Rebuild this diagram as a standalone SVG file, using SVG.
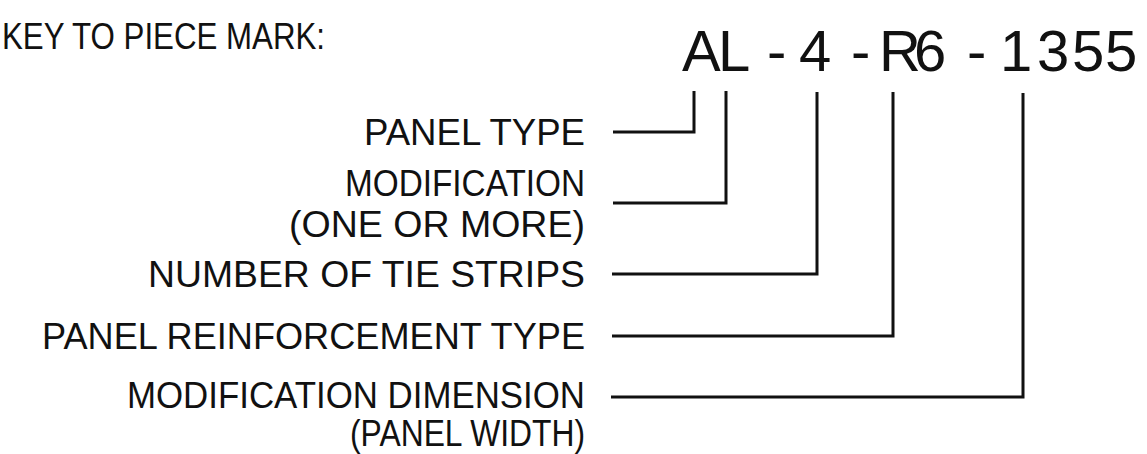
<svg xmlns="http://www.w3.org/2000/svg" width="1147" height="454" viewBox="0 0 1147 454">
<style>
  .lbl { font-family: "Liberation Sans", Arial, sans-serif; font-size: 36px; fill: #111; }
  .mark { font-family: "Liberation Sans", Arial, sans-serif; font-size: 58px; fill: #111; }
  .leader { fill: none; stroke: #111; stroke-width: 3; stroke-linejoin: miter; stroke-linecap: butt; }
</style>
<rect width="1147" height="454" fill="#fff"/>
<g id="title">
  <text class="lbl" x="2" y="49" textLength="323" lengthAdjust="spacingAndGlyphs">KEY TO PIECE MARK:</text>
</g>
<g id="piece-mark">
  <text class="mark" x="682 718 767 799 851 879 914 967 1000 1037 1072 1105" y="71">AL-4-R6-1355</text>
</g>
<g id="panel-type">
  <text class="lbl" x="364" y="145" textLength="221" lengthAdjust="spacingAndGlyphs">PANEL TYPE</text>
</g>
<g id="modification">
  <text class="lbl" x="345" y="196" textLength="240" lengthAdjust="spacingAndGlyphs">MODIFICATION</text>
  <text class="lbl" x="289" y="237" textLength="296" lengthAdjust="spacingAndGlyphs">(ONE OR MORE)</text>
</g>
<g id="tie-strips">
  <text class="lbl" x="148" y="287" textLength="437" lengthAdjust="spacingAndGlyphs">NUMBER OF TIE STRIPS</text>
</g>
<g id="reinforcement">
  <text class="lbl" x="42" y="349" textLength="543" lengthAdjust="spacingAndGlyphs">PANEL REINFORCEMENT TYPE</text>
</g>
<g id="mod-dimension">
  <text class="lbl" x="127" y="408" textLength="458" lengthAdjust="spacingAndGlyphs">MODIFICATION DIMENSION</text>
  <text class="lbl" x="350" y="446" textLength="235" lengthAdjust="spacingAndGlyphs">(PANEL WIDTH)</text>
</g>
<g id="connectors">
  <path class="leader" d="M613,132 H694 V91"/>
  <path class="leader" d="M613,203 H726 V91"/>
  <path class="leader" d="M612,274 H817 V92"/>
  <path class="leader" d="M612,336 H893 V92"/>
  <path class="leader" d="M611,397 H1023 V93"/>
</g>
</svg>
